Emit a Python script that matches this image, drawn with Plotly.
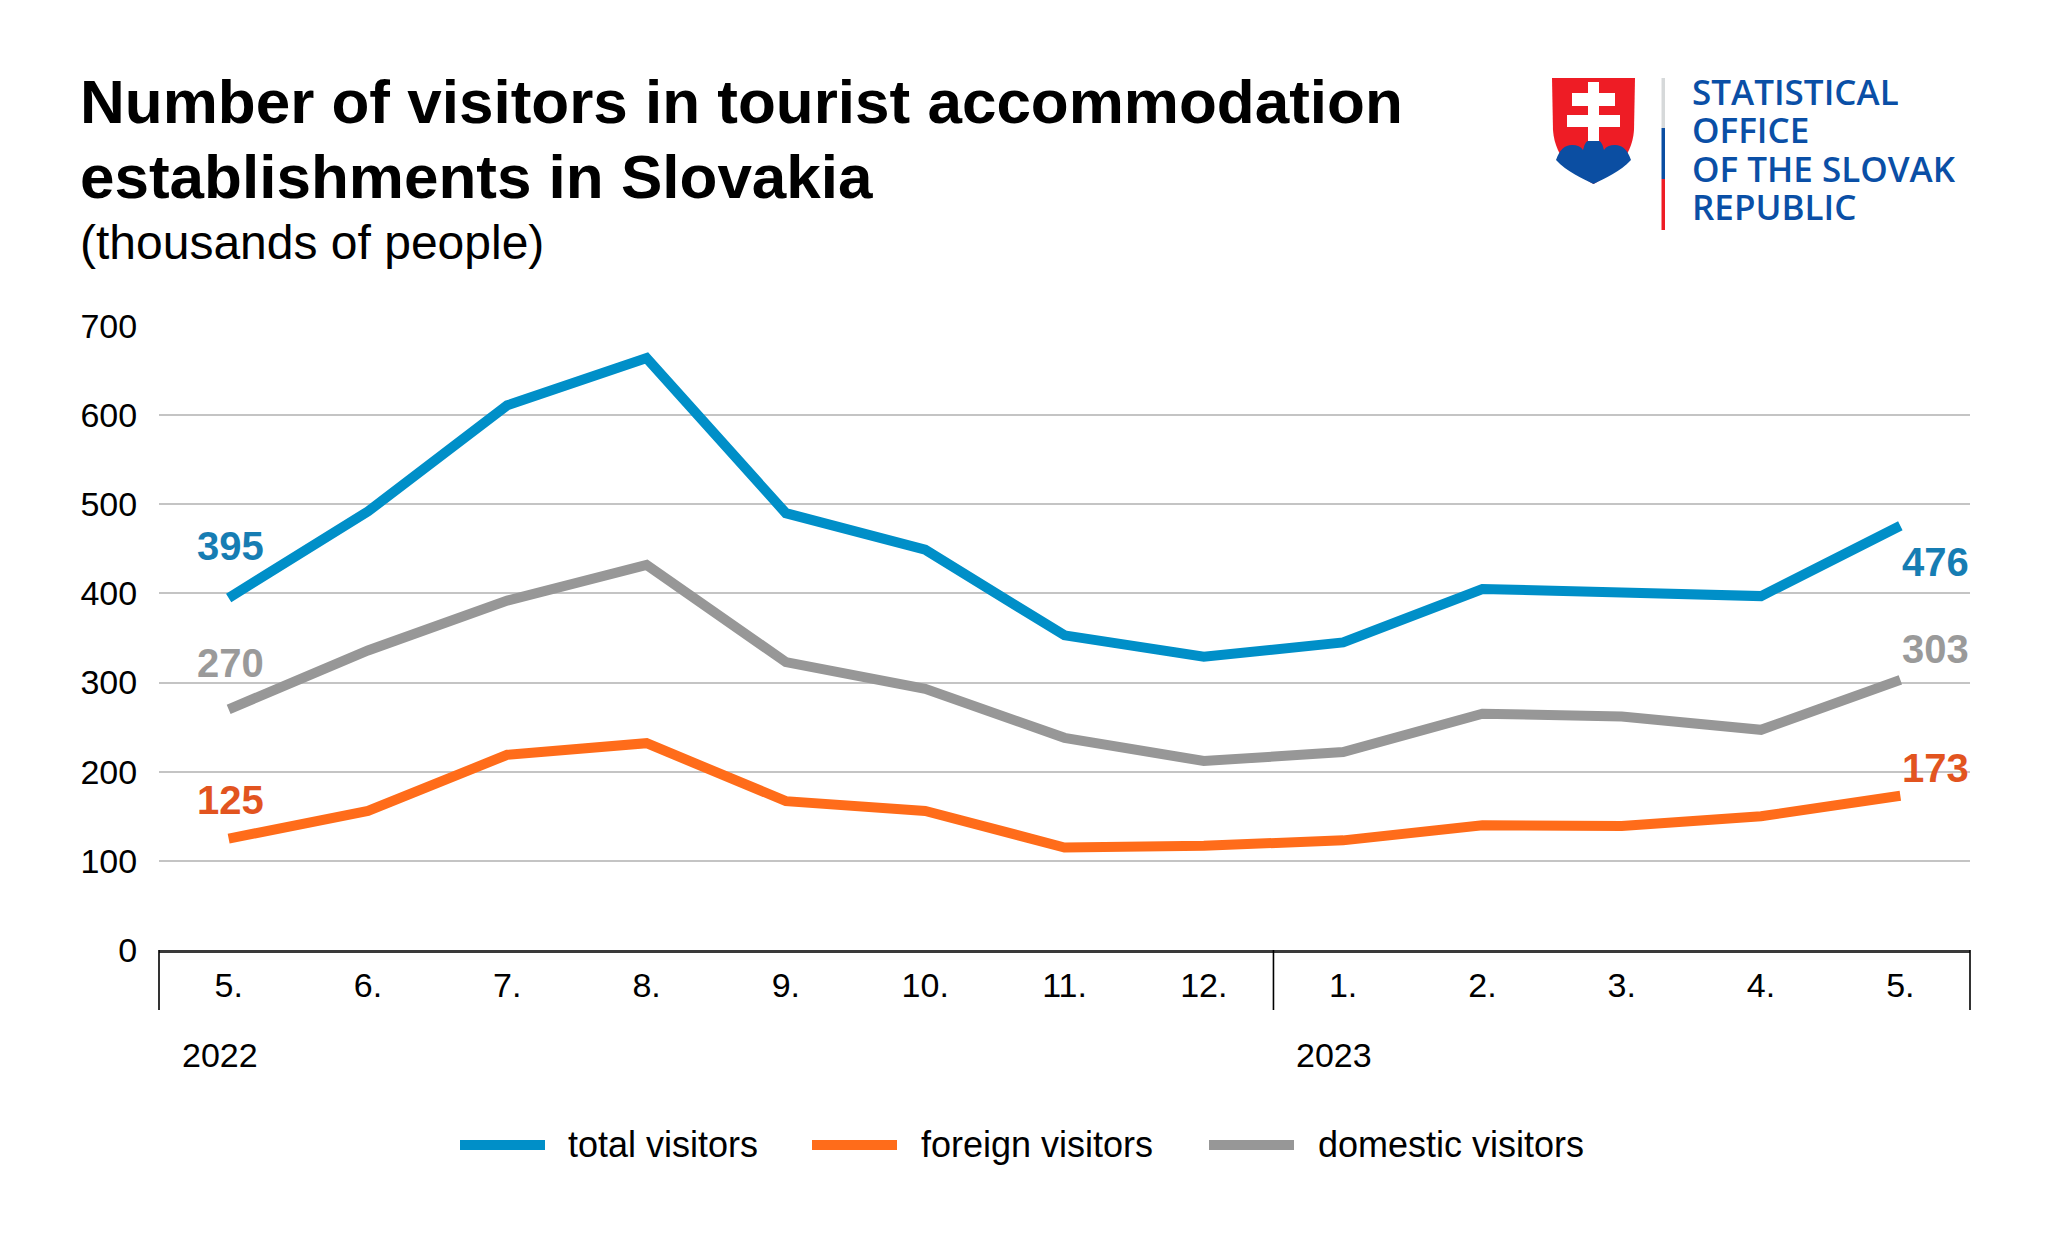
import plotly.graph_objects as go

# ---------------- data ----------------
months = ["5.", "6.", "7.", "8.", "9.", "10.", "11.", "12.", "1.", "2.", "3.", "4.", "5."]
years = ["2022", "2023"]
year_start_idx = [0, 8]
total_visitors = [395, 492, 611, 664, 490, 449, 353, 329, 345, 405, 401, 397, 476]
foreign_visitors = [125, 156, 219, 232, 167, 156, 115, 117, 123, 140, 139, 150, 173]
domestic_visitors = [270, 336, 392, 432, 323, 293, 238, 212, 222, 265, 262, 247, 303]
series_names = ["total visitors", "foreign visitors", "domestic visitors"]
y_ticks = [0, 100, 200, 300, 400, 500, 600, 700]
title_lines = ["Number of visitors in tourist accommodation", "establishments in Slovakia"]
subtitle = "(thousands of people)"
logo_lines = ["STATISTICAL", "OFFICE", "OF THE SLOVAK", "REPUBLIC"]

# ---------------- style ----------------
FONT = "Liberation Sans, Arial, sans-serif"
line_colors = ["#008FC8", "#FF6C1A", "#979797"]
label_colors = ["#167DB3", "#E2541F", "#9A9A9A"]
left_label_shift = [52, 39, 46]
right_label_shift = [-36, 28, 31]

W, H = 2048, 1241
ML, MR, MT, MB = 159, 78, 326, 291
PW = W - ML - MR
PH = H - MT - MB


def px(x):
    return (x - ML) / PW


def py(y):
    return (H - MB - y) / PH


xs = list(range(len(months)))
series = [total_visitors, foreign_visitors, domestic_visitors]

fig = go.Figure()
for name, vals, col in zip(series_names, series, line_colors):
    fig.add_trace(go.Scatter(x=xs, y=vals, mode="lines", name=name,
                             line=dict(color=col, width=10), showlegend=False,
                             hoverinfo="x+y+name"))

annotations = []
shapes = []

# end labels
for vals, col, ls, rs in zip(series, label_colors, left_label_shift, right_label_shift):
    annotations.append(dict(x=xs[0], y=vals[0], xref="x", yref="y", text=str(vals[0]),
                            showarrow=False, xanchor="center", yanchor="middle",
                            xshift=2, yshift=ls,
                            font=dict(family=FONT, size=40, color=col, weight="bold")))
    annotations.append(dict(x=xs[-1], y=vals[-1], xref="x", yref="y", text=str(vals[-1]),
                            showarrow=False, xanchor="right", yanchor="middle",
                            xshift=71, yshift=rs,
                            font=dict(family=FONT, size=40, color=col, weight="bold")))

# year labels
for yr, idx in zip(years, year_start_idx):
    annotations.append(dict(x=idx, y=py(1055), xref="x", yref="paper", text=yr,
                            showarrow=False, xanchor="center", yanchor="middle", xshift=-9,
                            font=dict(family=FONT, size=34, color="black")))

# axis group separators
n = len(months)
for k in [0, year_start_idx[1], n]:
    shapes.append(dict(type="line", xref="paper", yref="paper", x0=k / n, x1=k / n,
                       y0=py(950), y1=py(1010), line=dict(color="black", width=1.6)))

# title + subtitle
annotations.append(dict(x=px(78), y=py(102), xref="paper", yref="paper", text=title_lines[0],
                        showarrow=False, xanchor="left", yanchor="middle",
                        font=dict(family=FONT, size=62, color="black", weight="bold")))
annotations.append(dict(x=px(78), y=py(177), xref="paper", yref="paper", text=title_lines[1],
                        showarrow=False, xanchor="left", yanchor="middle",
                        font=dict(family=FONT, size=62, color="black", weight="bold")))
annotations.append(dict(x=px(78), y=py(242), xref="paper", yref="paper", text=subtitle,
                        showarrow=False, xanchor="left", yanchor="middle",
                        font=dict(family=FONT, size=48, color="black")))

# custom legend
leg_line_x = [460, 812, 1209]
leg_text_x = [566, 919, 1316]
leg_y = 1145
for name, col, lx, tx in zip(series_names, line_colors, leg_line_x, leg_text_x):
    shapes.append(dict(type="line", xref="paper", yref="paper", x0=px(lx), x1=px(lx + 85),
                       y0=py(leg_y), y1=py(leg_y), line=dict(color=col, width=10)))
    annotations.append(dict(x=px(tx), y=py(leg_y - 1), xref="paper", yref="paper", text=name,
                            showarrow=False, xanchor="left", yanchor="middle",
                            font=dict(family=FONT, size=36, color="black")))


def P(x, y):
    return f"{px(x):.5f},{py(y):.5f}"


SK_RED = "#EE1C25"
SK_BLUE = "#0B4EA2"
shield = (f"M {P(1552,78)} L {P(1635,78)} L {P(1634,130)} "
          f"C {P(1632,160)} {P(1610,175)} {P(1593.5,184)} "
          f"C {P(1577,175)} {P(1555,160)} {P(1553,130)} Z")
shapes.append(dict(type="path", xref="paper", yref="paper", path=shield,
                   fillcolor=SK_RED, line=dict(width=0)))
hills = (f"M {P(1556,160)} Q {P(1561,145)} {P(1572,145)} Q {P(1580,145)} {P(1583,150)} "
         f"Q {P(1585,139)} {P(1593.5,139)} Q {P(1602,139)} {P(1604,150)} "
         f"Q {P(1607,145)} {P(1615,145)} Q {P(1626,145)} {P(1631,160)} "
         f"C {P(1620,172)} {P(1605,178)} {P(1593.5,184)} "
         f"C {P(1582,178)} {P(1567,172)} {P(1556,160)} Z")
shapes.append(dict(type="path", xref="paper", yref="paper", path=hills,
                   fillcolor=SK_BLUE, line=dict(width=0)))
# double cross
for (x0, y0, x1, y1) in [(1588, 82, 1599, 141), (1572, 93, 1615, 106), (1567, 115, 1620, 127)]:
    shapes.append(dict(type="rect", xref="paper", yref="paper", x0=px(x0), x1=px(x1),
                       y0=py(y1), y1=py(y0), fillcolor="white", line=dict(width=0)))
# tricolour bar
for (y0, y1, c) in [(78, 128, "#D6D9DA"), (128, 179, SK_BLUE), (179, 230, SK_RED)]:
    shapes.append(dict(type="rect", xref="paper", yref="paper", x0=px(1661.5), x1=px(1665),
                       y0=py(y1), y1=py(y0), fillcolor=c, line=dict(width=0)))
# logo text
for i, t in enumerate(logo_lines):
    annotations.append(dict(x=px(1690), y=py(91 + i * 38.3), xref="paper", yref="paper", text=t,
                            showarrow=False, xanchor="left", yanchor="middle", height=36,
                            font=dict(family="Open Sans, sans-serif", size=35, color="#0A4FA6",
                                      weight=600)))

fig.update_layout(
    width=W, height=H,
    margin=dict(l=ML, r=MR, t=MT, b=MB, pad=0),
    paper_bgcolor="white", plot_bgcolor="white",
    showlegend=False,
    annotations=annotations,
    shapes=shapes,
    font=dict(family=FONT, size=34, color="black"),
)
fig.update_xaxes(range=[-0.5, n - 0.5], tickmode="array", tickvals=xs, ticktext=months,
                 showgrid=False, zeroline=False, showline=True, linecolor="#3A3A3A",
                 linewidth=3, ticks="outside", ticklen=3, tickcolor="rgba(0,0,0,0)",
                 tickfont=dict(family=FONT, size=34, color="black"), fixedrange=True)
fig.update_yaxes(range=[0, 700], tickmode="array", tickvals=y_ticks,
                 showgrid=True, gridcolor="#C4C4C4", gridwidth=1.5, zeroline=False,
                 showline=False, ticks="outside", ticklen=14, tickcolor="rgba(0,0,0,0)",
                 tickfont=dict(family=FONT, size=34, color="black"), fixedrange=True)

fig.write_html("out.html", post_script="document.body.style.margin='0';",
               config={"displayModeBar": False})
